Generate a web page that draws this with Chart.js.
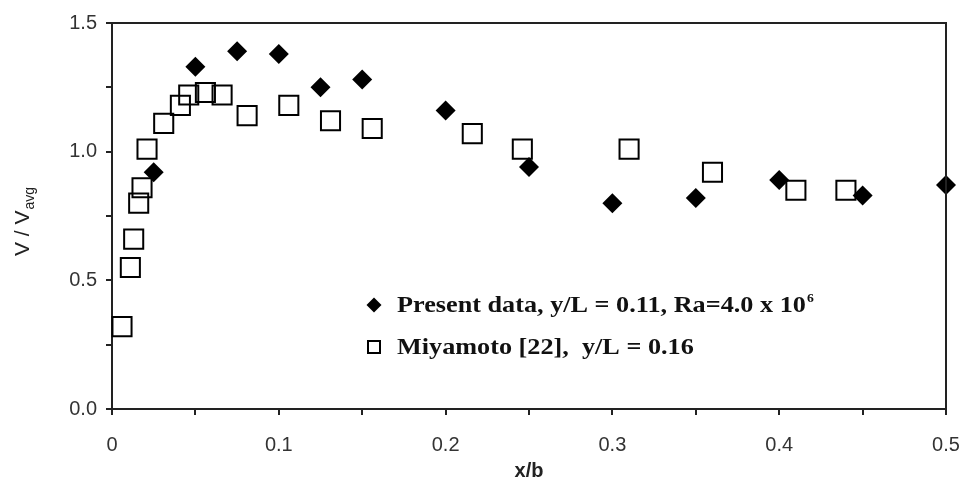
<!DOCTYPE html>
<html>
<head>
<meta charset="utf-8">
<script src="https://cdn.jsdelivr.net/npm/chart.js@4.4.1/dist/chart.umd.min.js"></script>
<style>
    html, body { margin: 0; padding: 0; background: #fff; }
    #wrap { width: 963px; height: 484px; position: relative; }
</style>
</head>
<body>
<div id="wrap"><canvas id="chart"></canvas></div>
<script>
// present data, y/L = 0.11
const presentX = [0.025, 0.05, 0.075, 0.1, 0.125, 0.15, 0.2, 0.25, 0.3, 0.35, 0.4, 0.45, 0.5];
const presentY = [0.92, 1.33, 1.39, 1.38, 1.25, 1.28, 1.16, 0.94, 0.80, 0.82, 0.89, 0.83, 0.87];

// Miyamoto [22], y/L = 0.16
const miyaX = [0.006, 0.011, 0.013, 0.016, 0.018, 0.021, 0.031, 0.041, 0.046, 0.056, 0.066,
               0.081, 0.106, 0.131, 0.156, 0.216, 0.246, 0.31, 0.36, 0.41, 0.44];
const miyaY = [0.32, 0.55, 0.66, 0.80, 0.86, 1.01, 1.11, 1.18, 1.22, 1.23, 1.22,
               1.14, 1.18, 1.12, 1.09, 1.07, 1.01, 1.01, 0.92, 0.85, 0.85];

const xTickLabels = ['0', '0.1', '0.2', '0.3', '0.4', '0.5'];
const yTickLabels = ['0.0', '0.5', '1.0', '1.5'];

const legendLabels = ['Present data, y/L = 0.11, Ra=4.0 x 10', 'Miyamoto [22],  y/L = 0.16'];
const legendSup = '6';

const toPoints = (xs, ys) => xs.map((x, i) => ({ x: x, y: ys[i] }));

const axisColor = '#222';
const tickFont = { family: 'Liberation Sans', size: 20 };

// top and right frame lines
const framePlugin = {
    id: 'frame',
    afterDraw(chart) {
        const { ctx, chartArea: a } = chart;
        ctx.save();
        ctx.strokeStyle = axisColor;
        ctx.lineWidth = 2;
        ctx.beginPath();
        ctx.moveTo(a.left, a.top);
        ctx.lineTo(a.right, a.top);
        ctx.lineTo(a.right, a.bottom);
        ctx.stroke();
        ctx.restore();
    }
};

// y title with subscript "avg"
const yTitlePlugin = {
    id: 'yTitle',
    afterDraw(chart) {
        const { ctx, chartArea: a } = chart;
        const main = 'V / V', sub = 'avg';
        ctx.save();
        ctx.fillStyle = axisColor;
        ctx.translate(22, (a.top + a.bottom) / 2 + 6);
        ctx.rotate(-Math.PI / 2);
        ctx.font = '21px "Liberation Sans"';
        const w1 = ctx.measureText(main).width;
        ctx.font = '14px "Liberation Sans"';
        const w2 = ctx.measureText(sub).width;
        const start = -(w1 + w2) / 2;
        ctx.textBaseline = 'alphabetic';
        ctx.font = '21px "Liberation Sans"';
        ctx.fillText(main, start, 7);
        ctx.font = '14px "Liberation Sans"';
        ctx.fillText(sub, start + w1 + 1, 12);
        ctx.restore();
    }
};

// legend inside the plot area
const legendPlugin = {
    id: 'innerLegend',
    afterDraw(chart) {
        const { ctx } = chart;
        const rows = [
            { y: 305, style: 'diamond' },
            { y: 347, style: 'square' }
        ];
        ctx.save();
        rows.forEach((row, i) => {
            const mx = 374;
            ctx.beginPath();
            if (row.style === 'diamond') {
                ctx.fillStyle = '#000';
                ctx.moveTo(mx, row.y - 7.5);
                ctx.lineTo(mx + 7.5, row.y);
                ctx.lineTo(mx, row.y + 7.5);
                ctx.lineTo(mx - 7.5, row.y);
                ctx.closePath();
                ctx.fill();
            } else {
                ctx.strokeStyle = '#000';
                ctx.lineWidth = 2;
                ctx.rect(mx - 6, row.y - 6, 12, 12);
                ctx.stroke();
            }
            ctx.save();
            ctx.translate(397, row.y + 7);
            ctx.scale(1.14, 1);
            ctx.fillStyle = '#111';
            ctx.font = 'bold 23px "Liberation Serif"';
            ctx.textBaseline = 'alphabetic';
            ctx.fillText(legendLabels[i], 0, 0);
            if (i === 0) {
                const w = ctx.measureText(legendLabels[i]).width;
                ctx.font = 'bold 12px "Liberation Serif"';
                ctx.fillText(legendSup, w + 1, -10);
            }
            ctx.restore();
        });
        ctx.restore();
    }
};

const ctx = document.getElementById('chart').getContext('2d');
new Chart(ctx, {
    type: 'scatter',
    data: {
        datasets: [
            {
                label: 'Present data',
                data: toPoints(presentX, presentY),
                pointStyle: 'rectRot',
                pointRadius: 10,
                pointHoverRadius: 10,
                backgroundColor: '#000',
                borderColor: '#000',
                borderWidth: 0,
                clip: false
            },
            {
                label: 'Miyamoto [22]',
                data: toPoints(miyaX, miyaY),
                pointStyle: 'rect',
                pointRadius: 13.5,
                pointHoverRadius: 13.5,
                backgroundColor: 'rgba(255,255,255,0)',
                borderColor: '#000',
                borderWidth: 2,
                clip: false
            }
        ]
    },
    options: {
        responsive: true,
        maintainAspectRatio: false,
        animation: false,
        layout: { padding: { left: 0, top: 23, right: 17, bottom: 0 } },
        plugins: {
            legend: { display: false },
            tooltip: { enabled: false }
        },
        scales: {
            x: {
                type: 'linear',
                min: 0,
                max: 0.5,
                afterFit(scale) {
                    scale.height = 75;
                    scale.paddingLeft = 0;
                    scale.paddingRight = 0;
                },
                title: {
                    display: true,
                    text: 'x/b',
                    color: axisColor,
                    font: { family: 'Liberation Sans', size: 20, weight: 'bold' },
                    padding: { top: 0, bottom: 1 }
                },
                ticks: {
                    stepSize: 0.05,
                    autoSkip: false,
                    maxRotation: 0,
                    padding: 18,
                    color: '#333',
                    font: tickFont,
                    callback: (v, i) => (i % 2 === 0 ? xTickLabels[i / 2] : '')
                },
                grid: {
                    drawOnChartArea: false,
                    drawTicks: true,
                    tickLength: 6,
                    color: axisColor,
                    lineWidth: 2
                },
                border: { display: true, color: axisColor, width: 2 }
            },
            y: {
                type: 'linear',
                min: 0,
                max: 1.5,
                afterFit(scale) { scale.width = 112; },
                ticks: {
                    stepSize: 0.25,
                    autoSkip: false,
                    padding: 9,
                    color: '#333',
                    font: tickFont,
                    callback: (v, i) => (i % 2 === 0 ? yTickLabels[i / 2] : '')
                },
                grid: {
                    drawOnChartArea: false,
                    drawTicks: true,
                    tickLength: 6,
                    color: axisColor,
                    lineWidth: 2
                },
                border: { display: true, color: axisColor, width: 2 }
            }
        }
    },
    plugins: [framePlugin, yTitlePlugin, legendPlugin]
});
</script>
</body>
</html>
